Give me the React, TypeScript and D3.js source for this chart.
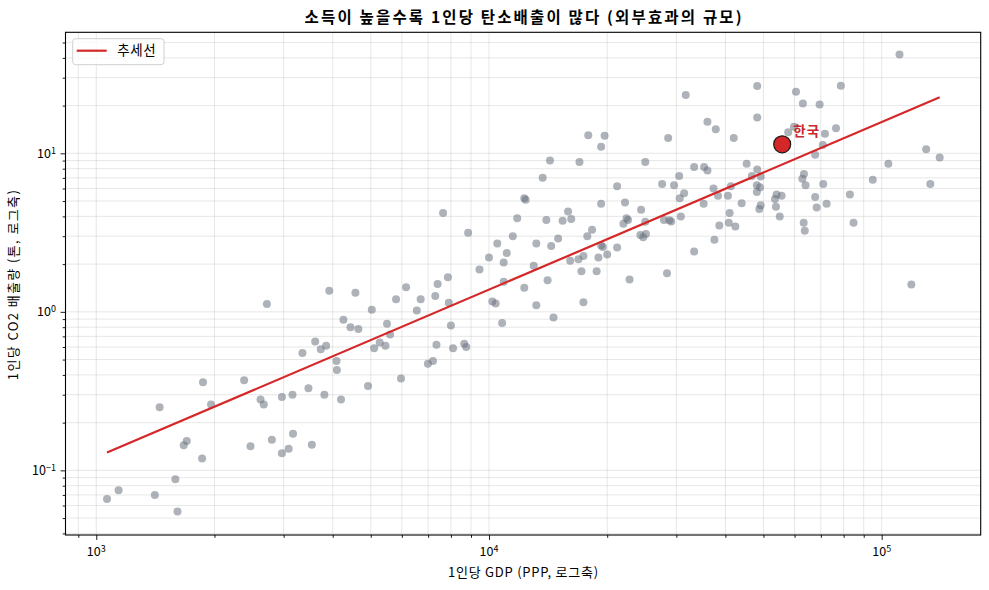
import React, { useRef, useEffect } from 'react';
import * as d3 from 'd3';

// 1인당 GDP (PPP, 달러) — 그림에서 읽은 값
const gdpPerCapita = [
  3920, 4570, 2720, 5030, 4260, 4440, 4650, 5500, 3610, 3730,
  3850, 3350, 5100, 5270, 5450, 4090, 4100, 3470, 3810, 4200,
  4920, 2380, 1870, 1450, 1960, 2620, 2670, 2970, 3160, 1700,
  1670, 2470, 2800, 3170, 2970, 3090, 3540, 1860, 1590, 1140,
  1065, 1410, 1610, 5600, 6990, 5970,
  13700, 21200, 27600, 29600, 31400, 30600, 35200, 12300, 12400, 19300,
  22200, 7640, 11800, 14000, 15900, 15400, 16200, 24400, 22400, 22000,
  22600, 27900, 28800, 29100, 30800, 25000, 8850, 11500, 10500, 13200,
  15000, 14400, 18300, 17800, 24300, 24700, 25100, 19300, 19500, 21200,
  20000, 11100, 10000, 10900, 13000, 16100, 16900, 17400, 19000, 17200,
  18800, 22800, 33300, 28400, 9460, 7860, 7400, 7300, 6150, 5800,
  6700, 6550, 7900, 10900, 12300, 14100, 10200, 10400, 13200, 17400,
  8000, 10800, 14600, 7350, 8100, 8650, 8750, 7200,
  31700, 36000, 17900, 19700, 19300, 28600, 14300, 17000, 25000, 33300,
  35300, 36000, 30500,
  48200, 60500, 78700, 63000, 69500, 37800, 48200, 42000, 57800, 59800,
  71700, 76500, 70800, 67700, 129800, 140500, 104000, 45300, 48200, 46700,
  49200, 63400, 62800, 64000, 71000, 94900, 133000, 37300, 38300, 41300,
  40600, 48100, 49000, 48100, 44000, 49200, 48800, 54000, 53500, 55600,
  53800, 55000, 67700, 68300, 72400, 83000, 41000, 38600, 40800, 42400,
  37500, 63300, 63700, 84800, 119000, 111000,
];

// 1인당 CO2 배출량 (톤) — 위 배열과 같은 순서
const co2PerCapita = [
  1.36, 1.32, 1.12, 1.03, 0.89, 0.8, 0.78, 0.84, 0.65, 0.58,
  0.61, 0.55, 0.59, 0.64, 0.61, 0.49, 0.43, 0.33, 0.3, 0.28,
  0.34, 0.37, 0.36, 0.25, 0.26, 0.28, 0.26, 0.29, 0.3, 0.153,
  0.144, 0.142, 0.156, 0.17, 0.128, 0.137, 0.145, 0.119, 0.088, 0.075,
  0.066, 0.07, 0.055, 0.72, 0.47, 0.38,
  7.0, 6.2, 6.4, 6.3, 5.6, 5.2, 4.8, 5.2, 5.1, 4.8,
  4.9, 4.2, 3.9, 3.8, 4.3, 3.75, 3.85, 4.4, 3.9, 3.6,
  3.8, 3.8, 3.78, 3.72, 4.0, 3.7, 3.15, 3.0, 2.7, 2.7,
  2.9, 2.6, 3.3, 3.0, 3.05, 2.95, 3.1, 2.62, 2.56, 2.55,
  2.3, 2.35, 2.2, 2.05, 1.95, 2.1, 2.15, 2.25, 2.2, 1.8,
  1.8, 1.6, 2.4, 1.75, 1.85, 1.65, 1.5, 1.26, 1.43, 1.2,
  1.2, 1.02, 1.14, 1.55, 1.42, 1.58, 1.16, 1.13, 1.1, 1.15,
  0.82, 0.85, 0.92, 0.62, 0.59, 0.63, 0.6, 0.49,
  23.3, 15.8, 13.0, 12.9, 11.0, 12.5, 9.0, 8.8, 8.8, 8.2,
  8.2, 7.8, 7.2,
  26.6, 24.5, 26.7, 20.6, 20.3, 14.2, 16.8, 12.5, 13.6, 14.7,
  13.3, 14.4, 11.3, 9.8, 10.6, 9.4, 8.6, 8.6, 7.9, 7.2,
  7.15, 7.4, 6.9, 6.3, 6.4, 6.8, 6.4, 6.0, 5.4, 6.2,
  5.4, 6.3, 6.1, 5.7, 4.85, 4.7, 4.45, 5.5, 5.15, 5.4,
  4.6, 4.0, 5.3, 4.55, 4.8, 5.5, 4.2, 3.5, 3.65, 3.45,
  2.85, 3.65, 3.25, 3.65, 1.49, 42,
];

const korea = { label: '한국', gdp: 55800, co2: 11.4 };

// 로그-로그 추세선 계수 (log10 y = slope * log10 x + intercept)
const trendSlope = 1.057;
const trendIntercept = -4.088;

const xLimits: [number, number] = [835, 178700];
const yLimits: [number, number] = [0.0391, 58.0];
const xTickExponents = [3, 4, 5];
const yTickExponents = [-1, 0, 1];

const titleText = '소득이 높을수록 1인당 탄소배출이 많다 (외부효과의 규모)';
const xLabelText = '1인당 GDP (PPP, 로그축)';
const yLabelText = '1인당 CO2 배출량 (톤, 로그축)';
const legendText = '추세선';

const WIDTH = 989;
const HEIGHT = 590;
const FONT = '"Noto Sans CJK KR", "Noto Sans", "DejaVu Sans", sans-serif';

const minorValues = (lo: number, hi: number) => {
  const out: number[] = [];
  for (let e = Math.floor(Math.log10(lo)); e <= Math.ceil(Math.log10(hi)); e++) {
    for (let k = 1; k <= 9; k++) {
      const v = k * Math.pow(10, e);
      if (v >= lo && v <= hi) out.push(v);
    }
  }
  return out;
};

const supLabel = (sel: d3.Selection<SVGTextElement, unknown, null, undefined>, exp: number) => {
  sel.append('tspan').text('10');
  sel.append('tspan')
     .attr('dy', '-0.45em')
     .attr('font-size', '0.72em')
     .text(exp < 0 ? `\u2212${-exp}` : `${exp}`);
};

const App: React.FC = () => {
  const svgRef = useRef<SVGSVGElement | null>(null);

  useEffect(() => {
    if (!svgRef.current) return;
    const margin = { top: 32.3, right: 8.3, bottom: 55, left: 65.5 };
    const innerWidth = WIDTH - margin.left - margin.right;
    const innerHeight = HEIGHT - margin.top - margin.bottom;

    const svg = d3.select(svgRef.current);
    svg.selectAll('*').remove();
    svg.append('rect').attr('width', WIDTH).attr('height', HEIGHT).attr('fill', '#fff');

    const g = svg.append('g')
                 .attr('transform', `translate(${margin.left}, ${margin.top})`);

    const xScale = d3.scaleLog().domain(xLimits).range([0, innerWidth]);
    const yScale = d3.scaleLog().domain(yLimits).range([innerHeight, 0]);

    const xMinor = minorValues(xLimits[0], xLimits[1]);
    const yMinor = minorValues(yLimits[0], yLimits[1]);

    // grid (major + minor)
    const grid = g.append('g').attr('class', 'grid');
    grid.selectAll('.gx')
        .data(xMinor)
        .enter()
        .append('line')
        .attr('x1', d => xScale(d))
        .attr('x2', d => xScale(d))
        .attr('y1', 0)
        .attr('y2', innerHeight)
        .attr('stroke', '#b0b0b0')
        .attr('stroke-opacity', 0.38)
        .attr('stroke-width', 0.8);
    grid.selectAll('.gy')
        .data(yMinor)
        .enter()
        .append('line')
        .attr('y1', d => yScale(d))
        .attr('y2', d => yScale(d))
        .attr('x1', 0)
        .attr('x2', innerWidth)
        .attr('stroke', '#b0b0b0')
        .attr('stroke-opacity', 0.38)
        .attr('stroke-width', 0.8);

    // scatter
    const points = gdpPerCapita.map((gdp, i) => ({ gdp, co2: co2PerCapita[i] }));
    g.selectAll('.pt')
     .data(points)
     .enter()
     .append('circle')
     .attr('class', 'pt')
     .attr('cx', d => xScale(d.gdp))
     .attr('cy', d => yScale(d.co2))
     .attr('r', 4)
     .attr('fill', '#6b7280')
     .attr('fill-opacity', 0.55);

    // trend line
    const [gMin, gMax] = d3.extent(gdpPerCapita) as [number, number];
    const trend = [gMin, gMax].map(v => ({
      gdp: v,
      co2: Math.pow(10, trendSlope * Math.log10(v) + trendIntercept),
    }));
    const line = d3.line<{ gdp: number; co2: number }>()
                   .x(d => xScale(d.gdp))
                   .y(d => yScale(d.co2));
    g.append('path')
     .datum(trend)
     .attr('d', line)
     .attr('fill', 'none')
     .attr('stroke', '#d62728')
     .attr('stroke-width', 2.2);

    // korea
    g.append('circle')
     .attr('cx', xScale(korea.gdp))
     .attr('cy', yScale(korea.co2))
     .attr('r', 8.5)
     .attr('fill', '#d62728')
     .attr('stroke', '#1a1a1a')
     .attr('stroke-width', 1.2);
    g.append('text')
     .attr('x', xScale(korea.gdp) + 11)
     .attr('y', yScale(korea.co2) - 8)
     .attr('fill', '#c8282b')
     .attr('font-size', 13.5)
     .attr('font-weight', 'bold')
     .attr('font-family', FONT)
     .attr('textLength', 26)
     .text(korea.label);

    // axes
    const xMajorVals = xTickExponents.map(e => Math.pow(10, e));
    const yMajorVals = yTickExponents.map(e => Math.pow(10, e));

    const styleAxis = (sel: d3.Selection<SVGGElement, unknown, null, undefined>) => {
      sel.select('.domain').remove();
      sel.selectAll('.tick line').attr('stroke', '#000').attr('stroke-width', 0.9);
    };

    const xMinorG = g.append('g')
                     .attr('transform', `translate(0, ${innerHeight})`)
                     .call(d3.axisBottom(xScale).tickValues(xMinor.filter(v => !xMajorVals.includes(v))).tickSize(2.8).tickFormat(() => ''));
    styleAxis(xMinorG);
    const xMajorG = g.append('g')
                     .attr('transform', `translate(0, ${innerHeight})`)
                     .call(d3.axisBottom(xScale).tickValues(xMajorVals).tickSize(4.9).tickFormat(() => ''));
    styleAxis(xMajorG);

    const yMinorG = g.append('g')
                     .call(d3.axisLeft(yScale).tickValues(yMinor.filter(v => !yMajorVals.includes(v))).tickSize(2.8).tickFormat(() => ''));
    styleAxis(yMinorG);
    const yMajorG = g.append('g')
                     .call(d3.axisLeft(yScale).tickValues(yMajorVals).tickSize(4.9).tickFormat(() => ''));
    styleAxis(yMajorG);

    xTickExponents.forEach(e => {
      const t = g.append('text')
                 .attr('x', xScale(Math.pow(10, e)))
                 .attr('y', innerHeight + 21.5)
                 .attr('text-anchor', 'middle')
                 .attr('font-size', 12.5)
                 .attr('font-family', FONT)
                 .attr('fill', '#000');
      supLabel(t, e);
    });
    yTickExponents.forEach(e => {
      const t = g.append('text')
                 .attr('x', -9.5)
                 .attr('y', yScale(Math.pow(10, e)) + 4.6)
                 .attr('text-anchor', 'end')
                 .attr('font-size', 12.5)
                 .attr('font-family', FONT)
                 .attr('fill', '#000');
      supLabel(t, e);
    });

    // frame
    g.append('rect')
     .attr('width', innerWidth)
     .attr('height', innerHeight)
     .attr('fill', 'none')
     .attr('stroke', '#000')
     .attr('stroke-width', 1.1);

    // legend
    const lg = g.append('g').attr('transform', 'translate(7.2, 6.4)');
    lg.append('rect')
      .attr('width', 91.3)
      .attr('height', 26)
      .attr('rx', 3)
      .attr('fill', '#fff')
      .attr('fill-opacity', 0.8)
      .attr('stroke', '#d0d0d0');
    lg.append('line')
      .attr('x1', 4).attr('x2', 34)
      .attr('y1', 12).attr('y2', 12)
      .attr('stroke', '#d62728')
      .attr('stroke-width', 2.2);
    lg.append('text')
      .attr('x', 44.5)
      .attr('y', 16.8)
      .attr('font-size', 13.5)
      .attr('font-family', FONT)
      .attr('fill', '#000')
      .attr('textLength', 38.5)
      .text(legendText);

    // titles
    svg.append('text')
       .attr('x', margin.left + innerWidth / 2)
       .attr('y', 22.5)
       .attr('text-anchor', 'middle')
       .attr('font-size', 15.5)
       .attr('font-weight', 'bold')
       .attr('font-family', FONT)
       .attr('fill', '#000')
       .attr('textLength', 437)
       .attr('lengthAdjust', 'spacing')
       .text(titleText);
    svg.append('text')
       .attr('x', margin.left + innerWidth / 2)
       .attr('y', 577)
       .attr('text-anchor', 'middle')
       .attr('font-size', 13)
       .attr('font-family', FONT)
       .attr('fill', '#000')
       .attr('textLength', 150)
       .attr('lengthAdjust', 'spacing')
       .text(xLabelText);
    svg.append('text')
       .attr('transform', `translate(17.5, ${margin.top + innerHeight / 2 + 1.5}) rotate(-90)`)
       .attr('text-anchor', 'middle')
       .attr('font-size', 13)
       .attr('font-family', FONT)
       .attr('fill', '#000')
       .attr('textLength', 190)
       .attr('lengthAdjust', 'spacing')
       .text(yLabelText);
  }, []);

  return (
    <svg
      ref={svgRef}
      width={WIDTH}
      height={HEIGHT}
      style={{ position: 'absolute', left: 0, top: 0 }}
    ></svg>
  );
};

export default App;
